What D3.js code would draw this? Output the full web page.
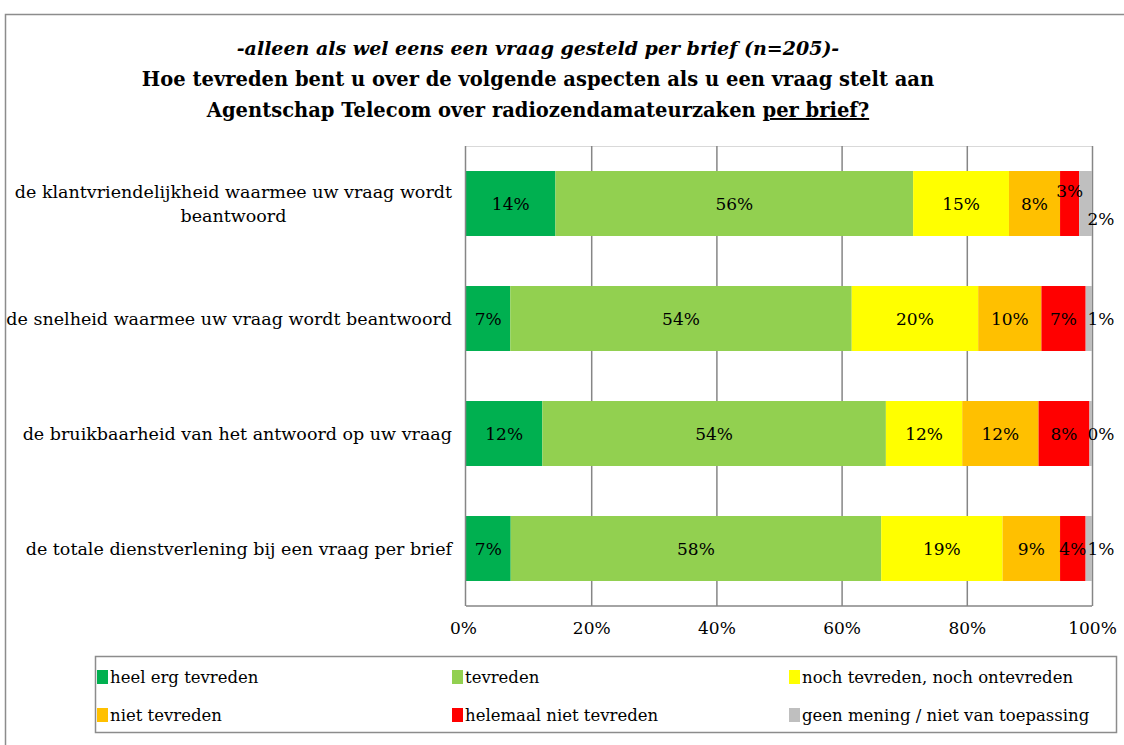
<!DOCTYPE html>
<html><head><meta charset="utf-8">
<script src="https://cdn.jsdelivr.net/npm/d3@7"></script>
<style>
html,body{margin:0;padding:0;background:#fff;}
svg text{font-family:"DejaVu Serif",serif;fill:#000;}
</style></head>
<body>
<svg id="chart" width="1124" height="745"></svg>
<script>
const titleLines = [
  "-alleen als wel eens een vraag gesteld per brief (n=205)-",
  "Hoe tevreden bent u over de volgende aspecten als u een vraag stelt aan",
  "Agentschap Telecom over radiozendamateurzaken ",
  "per brief?"
];
const categories = [
  "de klantvriendelijkheid waarmee uw vraag wordt beantwoord",
  "de snelheid waarmee uw vraag wordt beantwoord",
  "de bruikbaarheid van het antwoord op uw vraag",
  "de totale dienstverlening bij een vraag per brief"
];
const seriesNames = [
  "heel erg tevreden",
  "tevreden",
  "noch tevreden, noch ontevreden",
  "niet tevreden",
  "helemaal niet tevreden",
  "geen mening / niet van toepassing"
];
const seriesColors = ["#00B050","#92D050","#FFFF00","#FFC000","#FF0000","#BFBFBF"];
const heelErgTevreden   = [14, 7, 12, 7];
const tevreden          = [56, 54, 54, 58];
const nochTevreden      = [15, 20, 12, 19];
const nietTevreden      = [8, 10, 12, 9];
const helemaalNiet      = [3, 7, 8, 4];
const geenMening        = [2, 1, 0.4, 1];
const xTickValues = [0, 20, 40, 60, 80, 100];

const seriesValues = [heelErgTevreden, tevreden, nochTevreden, nietTevreden, helemaalNiet, geenMening];

const svg = d3.select("#chart");

// outer frame
svg.append("rect").attr("x",5.5).attr("y",14.5).attr("width",1130).attr("height",740)
  .attr("fill","none").attr("stroke","#8c8c8c").attr("stroke-width",1.5);

// title
const tcx = 538;
svg.append("text").attr("x",tcx).attr("y",55).attr("text-anchor","middle")
  .style("font-size","19px").style("font-weight","bold").style("font-style","italic")
  .text(titleLines[0]);
svg.append("text").attr("x",tcx).attr("y",86).attr("text-anchor","middle")
  .style("font-size","19.5px").style("font-weight","bold").text(titleLines[1]);
const t3 = svg.append("text").attr("x",tcx).attr("y",117).attr("text-anchor","middle")
  .style("font-size","19.5px").style("font-weight","bold");
t3.append("tspan").text(titleLines[2]);
t3.append("tspan").style("text-decoration","underline").text(titleLines[3]);

// scales
const plot = {left:466, right:1092, top:146, bottom:606};
const x = d3.scaleLinear().domain([0,100]).range([plot.left, plot.right]);
const y = d3.scaleBand().domain(categories).range([plot.top, plot.bottom])
  .paddingInner(0.435).paddingOuter(0.2175);

// top light border
svg.append("line").attr("x1",plot.left).attr("x2",plot.right).attr("y1",plot.top+0.5).attr("y2",plot.top+0.5)
  .attr("stroke","#d9d9d9");

// gridlines
const grid = svg.append("g").attr("transform",`translate(0,${plot.bottom})`)
  .call(d3.axisBottom(x).tickValues(xTickValues.slice(1)).tickSize(-(plot.bottom-plot.top)).tickFormat(""));
grid.select(".domain").remove();
grid.selectAll("line").attr("stroke","#868686").attr("stroke-width",1.5);

// stacked data (100% stacked: normalized per category)
const rows = categories.map((c,i) => {
  const vals = seriesValues.map(s => s[i]);
  const tot = d3.sum(vals);
  let acc = 0;
  return vals.map((v,k) => {
    const seg = {cat:c, k, v, x0: acc/tot*100, x1:(acc+v)/tot*100, row:i};
    acc += v;
    return seg;
  });
});

const segs = rows.flat();
svg.append("g").selectAll("rect").data(segs).join("rect")
  .attr("x", d => x(d.x0))
  .attr("y", d => y(d.cat))
  .attr("width", d => Math.max(0, x(d.x1)-x(d.x0)))
  .attr("height", y.bandwidth())
  .attr("fill", d => seriesColors[d.k]);

// axis lines
svg.append("line").attr("x1",plot.left-0.5).attr("x2",plot.left-0.5).attr("y1",plot.top).attr("y2",plot.bottom)
  .attr("stroke","#868686").attr("stroke-width",1.5);
svg.append("line").attr("x1",plot.left).attr("x2",plot.right).attr("y1",plot.bottom).attr("y2",plot.bottom)
  .attr("stroke","#868686").attr("stroke-width",1.5);

// data labels
const lbl = svg.append("g").style("font-size","17px");
segs.forEach(d => {
  const row = rows[d.row];
  const greyW = x(row[5].x1) - x(row[5].x0);
  let cx = (x(d.x0)+x(d.x1))/2;
  let cy = y(d.cat) + y.bandwidth()/2;
  if (d.k === 5) {
    cx = x(d.x1) + 9;
    if (greyW > 9) cy += 15;
  }
  if (d.k === 4 && greyW > 9) cy -= 13;
  lbl.append("text").attr("x",cx).attr("y",cy).attr("text-anchor","middle")
    .attr("dominant-baseline","central")
    .text(d3.format(".0f")(d.v) + "%");
});

// x axis labels
const xa = svg.append("g").attr("transform",`translate(0,${plot.bottom})`)
  .call(d3.axisBottom(x).tickValues(xTickValues).tickSize(0).tickPadding(16).tickFormat(d => d + "%"));
xa.select(".domain").remove();
xa.selectAll("text").style("font-family","DejaVu Serif, serif").style("font-size","17px").attr("fill","#000");
xa.selectAll(".tick").filter(d => d===0).select("text").attr("dx",-3);

// category labels (wrapped, centered block right-aligned at 452)
const catG = svg.append("g").style("font-size","17.5px");
categories.forEach(c => {
  const words = c.split(" ");
  const tmp = catG.append("text").attr("visibility","hidden");
  const lines = [];
  let cur = [];
  words.forEach(w => {
    const test = cur.concat([w]).join(" ");
    tmp.text(test);
    if (tmp.node().getComputedTextLength() > 446 && cur.length) {
      lines.push(cur.join(" "));
      cur = [w];
    } else cur.push(w);
  });
  lines.push(cur.join(" "));
  let maxW = 0;
  lines.forEach(l => { tmp.text(l); maxW = Math.max(maxW, tmp.node().getComputedTextLength()); });
  tmp.remove();
  const cx = 452 - maxW/2;
  const cy = y(c) + y.bandwidth()/2;
  const lh = 24;
  const t = catG.append("text").attr("text-anchor","middle");
  lines.forEach((l,i) => {
    t.append("tspan").attr("x",cx).attr("y", cy + (i - (lines.length-1)/2)*lh)
      .attr("dominant-baseline","central").text(l);
  });
});

// legend
svg.append("rect").attr("x",95.5).attr("y",656.5).attr("width",1021).attr("height",76)
  .attr("fill","none").attr("stroke","#8c8c8c").attr("stroke-width",1.5);
const legCols = [97, 452, 789];
const legRows = [677, 715];
const leg = svg.append("g").style("font-size","16.5px");
seriesNames.forEach((n,i) => {
  const lx = legCols[i%3], ly = legRows[Math.floor(i/3)];
  leg.append("rect").attr("x",lx).attr("y",ly-7).attr("width",11).attr("height",14).attr("fill",seriesColors[i]);
  leg.append("text").attr("x",lx+13).attr("y",ly).attr("dominant-baseline","central").text(n);
});
</script>
</body></html>
